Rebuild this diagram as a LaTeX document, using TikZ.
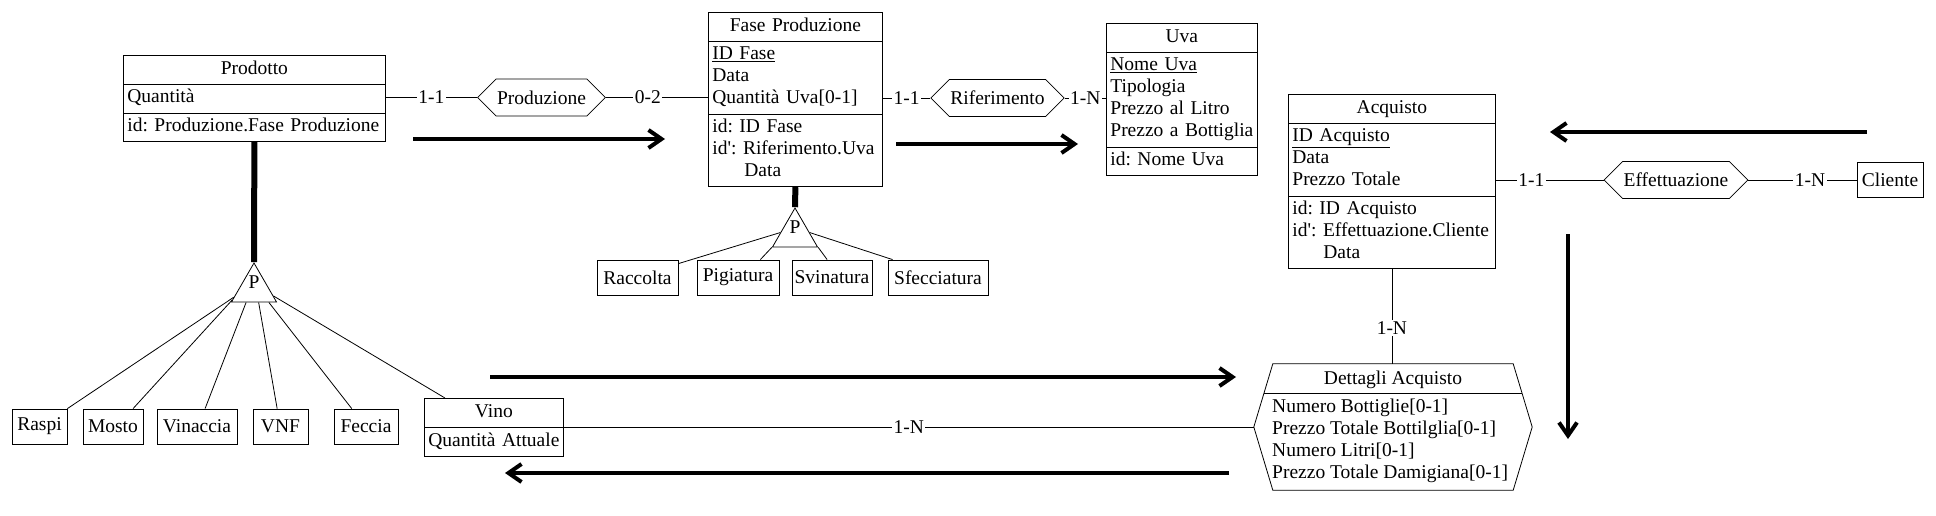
\documentclass[tikz,border=0pt]{standalone}
\usepackage{fontspec}
\setmainfont{Liberation Serif}
\usetikzlibrary{shapes.multipart, shapes.symbols, shapes.geometric, arrows.meta, calc, positioning}
\newcommand{\erfont}{\fontsize{19.5}{22}\selectfont\frenchspacing}
\newcommand{\apo}{\textquotesingle}
\newcommand{\etitle}[1]{\hfill\strut #1\hfill\null}
\tikzset{
  link/.style={line width=0.8pt},
  entity/.style={draw, line width=0.8pt, rectangle split, rectangle split parts=3,
    text width=#1, inner xsep=4pt, inner ysep=3pt, align=left, anchor=north west},
  box/.style={draw, line width=0.8pt, minimum height=35pt, inner xsep=2pt},
  rel/.style={draw, line width=0.8pt, signal, signal to=west and east,
    signal pointer angle=90, minimum height=37pt, inner xsep=1pt},
  isa/.style={draw, line width=0.8pt, regular polygon, regular polygon sides=3,
    minimum size=52pt, inner sep=0pt},
  card/.style={fill=white, inner sep=1.5pt},
  flow/.style={line width=4pt, -{Straight Barb[length=13pt, width=18pt]}}
}

\begin{document}
\begin{tikzpicture}[x=1pt, y=-1pt, font=\erfont]

\useasboundingbox (0,0) rectangle (1936,516);

% Entities
\node[entity=254pt] (prodotto) at (123,55)
  {\etitle{Prodotto}
   \nodepart{two}\strut Quantità
   \nodepart{three}\strut\mbox{id: Produzione.Fase Produzione}};

\node[entity=166pt] (fase) at (708,12)
  {\etitle{Fase Produzione}
   \nodepart{two}\strut\underline{ID~Fase}\\\strut Data\\\strut\mbox{Quantità Uva[0-1]}
   \nodepart{three}\strut id:~ID~Fase\\\strut\mbox{id\apo: Riferimento.Uva}\\\strut\hspace*{32pt}Data};

\node[entity=143pt] (uva) at (1106,23)
  {\etitle{Uva}
   \nodepart{two}\strut\underline{Nome~Uva}\\\strut Tipologia\\\strut Prezzo~al~Litro\\\strut\mbox{Prezzo a Bottiglia}
   \nodepart{three}\strut id:~Nome~Uva};

\node[entity=199pt] (acquisto) at (1288,94)
  {\etitle{Acquisto}
   \nodepart{two}\strut\underline{ID~Acquisto}\\\strut Data\\\strut Prezzo~Totale
   \nodepart{three}\strut id:~ID~Acquisto\\\strut\mbox{id\apo: Effettuazione.Cliente}\\\strut\hspace*{31pt}Data};

\node[entity=131pt, rectangle split parts=2] (vino) at (424,398)
  {\etitle{Vino}
   \nodepart{two}\strut\mbox{Quantità Attuale}};

\node[box, minimum width=66pt] (cliente) at (1890,180) {Cliente};

% Relationships
\node[rel] (produzione) at (541.5,97.5) {Produzione};
\node[rel] (riferimento) at (997.5,98) {Riferimento};
\node[rel] (effettuazione) at (1676,180) {Effettuazione};

% Dettagli Acquisto
\node[minimum width=278pt, minimum height=126pt, inner sep=0pt] (dettagli) at (1393,427) {};
\draw[link] (dettagli.west) -- ([xshift=19pt]dettagli.north west) -- ([xshift=-19pt]dettagli.north east)
  -- (dettagli.east) -- ([xshift=-19pt]dettagli.south east) -- ([xshift=19pt]dettagli.south west) -- cycle;
\draw[link] ($(dettagli.west)!0.524!([xshift=19pt]dettagli.north west)$)
  -- ($(dettagli.east)!0.524!([xshift=-19pt]dettagli.north east)$);
\node (dettagli-t) at (1393,380) {Dettagli Acquisto};
\node[anchor=north west, align=left, inner sep=0pt] (dettagli-a) at (1272,397)
  {\strut Numero Bottiglie[0-1]\\\strut Prezzo Totale Bottilglia[0-1]\\
   \strut Numero Litri[0-1]\\\strut Prezzo Totale Damigiana[0-1]};

% Subtypes of Prodotto
\node[box, minimum width=55pt] (raspi) at (39.5,426.5) {Raspi};
\node[box, minimum width=60pt] (mosto) at (113,426.5) {Mosto};
\node[box, minimum width=80pt] (vinaccia) at (197,426.5) {Vinaccia};
\node[box, minimum width=55pt] (vnf) at (280.5,426.5) {VNF};
\node[box, minimum width=64pt] (feccia) at (366,426.5) {Feccia};

% Subtypes of Fase Produzione
\node[box, minimum width=81pt] (raccolta) at (637.5,277.5) {Raccolta};
\node[box, minimum width=82pt] (pigiatura) at (738,277.5) {Pigiatura};
\node[box, minimum width=80pt] (svinatura) at (832,277.5) {Svinatura};
\node[box, minimum width=100pt] (sfecciatura) at (938,277.5) {Sfecciatura};

% ISA triangles
\node[isa] (isa1) at (254,289) {};
\node (isa1p) at ([yshift=7pt]isa1.center) {P};
\node[isa] (isa2) at (795,234) {};
\node (isa2p) at ([yshift=7pt]isa2.center) {P};

\draw[line width=6pt] (prodotto.south) -- (isa1.corner 1);
\draw[line width=6pt] (fase.south) -- (isa2.corner 1);

\draw[link] (raspi.north east) -- ($(isa1.corner 2)!0.13!(isa1.corner 1)$);
\draw[link] ($(mosto.north west)!0.83!(mosto.north east)$) -- ($(isa1.corner 2)!0.06!(isa1.corner 1)$);
\draw[link] ($(vinaccia.north west)!0.6!(vinaccia.north east)$) -- ($(isa1.corner 2)!0.33!(isa1.corner 3)$);
\draw[link] ($(vnf.north west)!0.44!(vnf.north east)$) -- ($(isa1.corner 2)!0.6!(isa1.corner 3)$);
\draw[link] ($(feccia.north west)!0.28!(feccia.north east)$) -- ($(isa1.corner 2)!0.82!(isa1.corner 3)$);
\draw[link] ($(vino.north west)!0.15!(vino.north east)$) -- ($(isa1.corner 3)!0.16!(isa1.corner 1)$);

\draw[link] ([yshift=-4pt]raccolta.north east) -- ($(isa2.corner 2)!0.37!(isa2.corner 1)$);
\draw[link] ($(pigiatura.north west)!0.77!(pigiatura.north east)$) -- (isa2.corner 2);
\draw[link] ($(svinatura.north west)!0.44!(svinatura.north east)$) -- (isa2.corner 3);
\draw[link] ([xshift=5pt]sfecciatura.north west) -- ($(isa2.corner 3)!0.37!(isa2.corner 1)$);

% Connectors
\draw[link] (produzione.west -| prodotto.east) -- node[card]{1-1} (produzione.west);
\draw[link] (produzione.east) -- node[card, pos=0.41]{0-2} (produzione.east -| fase.west);
\draw[link] (riferimento.west -| fase.east) -- node[card]{1-1} (riferimento.west);
\draw[link] (riferimento.east) -- node[card]{1-N} (riferimento.east -| uva.west);
\draw[link] (effettuazione.west -| acquisto.east) -- node[card, pos=0.33]{1-1} (effettuazione.west);
\draw[link] (effettuazione.east) -- node[card, pos=0.57]{1-N} (cliente.west);
\draw[link] (acquisto.south) -- node[card, pos=0.62]{1-N} (acquisto.south |- dettagli.north);
\draw[link] (dettagli.west -| vino.east) -- node[card]{1-N} (dettagli.west);

% Flow arrows
\draw[flow] (413,139) -- (665,139);
\draw[flow] (896,144) -- (1078,144);
\draw[flow] (1867,132) -- (1550,132);
\draw[flow] (1568,234) -- (1568,439);
\draw[flow] (490,377) -- (1236,377);
\draw[flow] (1229,473) -- (505,473);

\end{tikzpicture}
\end{document}
